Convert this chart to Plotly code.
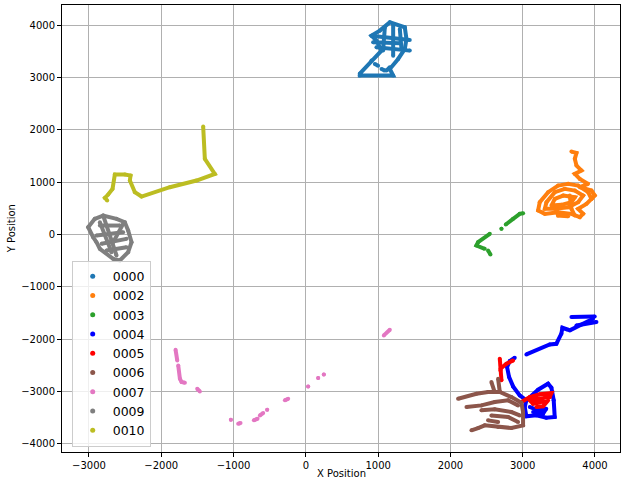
import plotly.graph_objects as go

N = None
# ---- trajectory data (X Position, Y Position); None separates stroke segments ----
names = ["0000", "0002", "0003", "0004", "0005", "0006", "0007", "0009", "0010"]
colors = ["#1f77b4", "#ff7f0e", "#2ca02c", "#0000ff", "#ff0000", "#8c564b", "#e377c2", "#7f7f7f", "#bcbd22"]

x_0000 = [747, 908, 1047, 977, 908, 1023, 1162, 1369, 1392, 1369, 1277, 1162, 1208, 747, 747, N,
          908, 1438, N, 977, 1438, N, 931, 1300, N, 1208, 1208, N, 1093, 1069, N, 1300, 1323, N,
          954, 1000, N, 1047, 1093, N, 1116, 1162]
y_0000 = [3071, 3320, 3511, 3702, 3797, 3892, 4051, 3955, 3734, 3543, 3352, 3161, 3034, 3034, 3071, N,
          3797, 3714, N, 3574, 3511, N, 3670, 3650, N, 4020, 3415, N, 3956, 3511, N, 3925, 3543, N,
          3257, 3224, N, 3161, 3129, N, 3129, 3193]

x_0002 = [3674, 3744, 3721, 3744, 3813, 3721, 3790, 3905, 3790, 3951, 3997, 3951, N,
          3628, 3490, 3352, 3236, 3213, 3306, 3490, 3674, 3790, 3836, 3767, 3882, 3951, 3905, 3767, 3628, N,
          3582, 3444, 3329, 3306, 3444, 3628, 3767, 3836, 3721, 3582, N,
          3559, 3444, 3398, 3536, 3674, 3721, 3559, N,
          3651, 3674, 3721, N, 3467, 3490, 3628]
y_0002 = [1583, 1558, 1444, 1316, 1221, 1157, 1062, 967, 903, 839, 744, 680, N,
          967, 935, 808, 617, 458, 394, 426, 394, 331, 394, 490, 585, 680, 808, 935, 967, N,
          871, 808, 617, 490, 490, 521, 617, 744, 839, 871, N,
          744, 680, 553, 566, 617, 712, 744, N,
          744, 490, 362, N, 458, 362, 350]

x_0003 = [2766, 2867, 2959, 3006, N, 2706, 2706, N, 2545, 2383, 2360, 2475, N, 2521, 2554]
y_0003 = [191, 299, 395, 407, N, 108, 108, N, 13, -146, -210, -273, N, -305, -381]

x_0004 = [3674, 3996, N, 3973, 3651, N, 3743, 4020, N,
          3628, 3549, 3535, 3466, 3374, 3051, N,
          2890, 2821, 2784, 2812, 2867, 2959, 3051, 3213, 3351, 3397, 3429, 3443, 3326, 3190, 3051, 3028, 3051, N,
          3098, 3213, 3326, 3282, 3144]
y_0004 = [-1577, -1564, N, -1609, -1831, N, -1736, -1672, N,
          -1819, -1781, -1895, -2086, -2099, -2289, N,
          -2353, -2417, -2531, -2722, -2900, -3072, -3167, -2963, -2849, -2925, -3167, -3485, -3498, -3453, -3472, -3294, -3167, N,
          -3294, -3358, -3326, -3421, -3390]

x_0005 = [2683, 2692, 2706, N, 2692, 2775, 2867, N,
          2982, 3098, 3236, 3397, 3374, 3213, 3098, 3144, 3282, 3351, 3282, 3190]
y_0005 = [-2372, -2595, -2785, N, -2563, -2467, -2404, N,
          -3199, -3103, -3052, -3027, -3103, -3135, -3167, -3231, -3199, -3167, -3281, -3294]

x_0006 = [2106, 2360, 2521, 2683, 2844, 2982, 3005, 3005, 2844, 2660, 2475, 2383, 2291, N,
          2660, 2683, N, 2567, 2613, N,
          2222, 2429, 2613, 2798, 2936, N,
          2429, 2613, 2844, 2959, N,
          2567, 2798, 2936, N, 2521, 2660]
y_0006 = [-3136, -3040, -3008, -3008, -3104, -3212, -3390, -3644, -3695, -3676, -3644, -3695, -3740, N,
          -2754, -3008, N, -2818, -3008, N,
          -3295, -3263, -3199, -3167, -3263, N,
          -3358, -3339, -3390, -3454, N,
          -3454, -3485, -3581, N, -3549, -3581]

x_0007 = [-1802, -1779, N, -1765, -1742, -1719, -1673, N, -1503, -1466, N, -1037, -1037, N,
          -936, -903, N, -719, -668, N, -636, -590, N, -535, -535, N, -290, -244, N,
          32, 32, N, 171, 171, N, 249, 249, N, 1079, 1162]
y_0007 = [-2201, -2404, N, -2500, -2754, -2818, -2830, N, -2945, -2996, N, -3536, -3536, N,
          -3613, -3600, N, -3549, -3517, N, -3454, -3409, N, -3345, -3345, N, -3167, -3136, N,
          -2900, -2900, N, -2741, -2741, N, -2671, -2671, N, -1927, -1819]

x_0009 = [-2919, -2803, -2619, -2504, -2458, -2411, -2458, -2573, -2665, -2849, -2896, -2942, -3011, -2919, N,
          -2849, -2573, N, -2896, -2527, N, -2826, -2481, N, -2757, -2481, N,
          -2803, -2619, N, -2527, -2665, N, -2849, -2688]
y_0009 = [299, 362, 299, 235, 76, -147, -337, -496, -465, -274, -147, -51, 140, 299, N,
          171, 171, N, -19, 44, N, -178, -83, N, -306, -242, N,
          362, -401, N, 203, -147, N, 235, -337]

x_0010 = [-1420, -1397, -1259, -1512, -1881, -2273, -2365, -2434, -2425, -2503, -2642, -2674, -2734, -2780, -2748]
y_0010 = [2061, 1444, 1157, 1030, 903, 725, 808, 1030, 1126, 1145, 1145, 871, 763, 699, 649]

xs = [x_0000, x_0002, x_0003, x_0004, x_0005, x_0006, x_0007, x_0009, x_0010]
ys = [y_0000, y_0002, y_0003, y_0004, y_0005, y_0006, y_0007, y_0009, y_0010]

x_ticks = [-3000, -2000, -1000, 0, 1000, 2000, 3000, 4000]
y_ticks = [-4000, -3000, -2000, -1000, 0, 1000, 2000, 3000, 4000]

fig = go.Figure()
for i, (nm, c) in enumerate(zip(names, colors)):
    fig.add_trace(go.Scatter(
        x=xs[i], y=ys[i], mode="lines+markers", name=nm, showlegend=False,
        legendgroup=nm, line=dict(color=c, width=4), marker=dict(color=c, size=4),
        connectgaps=False, hoverinfo="skip"))
for nm, c in zip(names, colors):
    fig.add_trace(go.Scatter(
        x=[None], y=[None], mode="markers", name=nm, legendgroup=nm,
        marker=dict(color=c, size=5)))

axis_common = dict(
    showline=True, mirror=True, linecolor="black", linewidth=1,
    ticks="outside", ticklen=4, tickcolor="black", tickwidth=1,
    showgrid=True, gridcolor="#b0b0b0", gridwidth=0.8, zeroline=False,
    tickfont=dict(family="DejaVu Sans", size=10, color="black"),
    automargin=False,
)

fig.update_layout(
    width=621, height=480, autosize=False,
    margin=dict(l=62, r=1, t=5, b=28),
    plot_bgcolor="white", paper_bgcolor="white",
    font=dict(family="DejaVu Sans", color="black"),
    xaxis=dict(range=[-3373, 4346], tickvals=x_ticks, **axis_common),
    yaxis=dict(range=[-4153, 4382], tickvals=y_ticks, **axis_common),
    legend=dict(x=0.0174, y=0.012, xanchor="left", yanchor="bottom",
                bgcolor="rgba(255,255,255,0.8)", bordercolor="#cccccc", borderwidth=1,
                font=dict(size=12.5, family="DejaVu Sans"), traceorder="grouped",
                tracegroupgap=0, itemwidth=30),
    showlegend=True,
    annotations=[
        dict(text="X Position", xref="paper", yref="paper", x=0.5, y=-0.047,
             xanchor="center", yanchor="middle", showarrow=False,
             font=dict(size=10, family="DejaVu Sans")),
        dict(text="Y Position", xref="paper", yref="paper", x=-0.09, y=0.5,
             xanchor="center", yanchor="middle", showarrow=False, textangle=-90,
             font=dict(size=10, family="DejaVu Sans")),
    ],
)

fig.write_html(
    "out.html",
    config={"responsive": False, "displayModeBar": False},
    post_script="document.body.style.margin='0px';document.body.style.overflow='hidden';",
)
